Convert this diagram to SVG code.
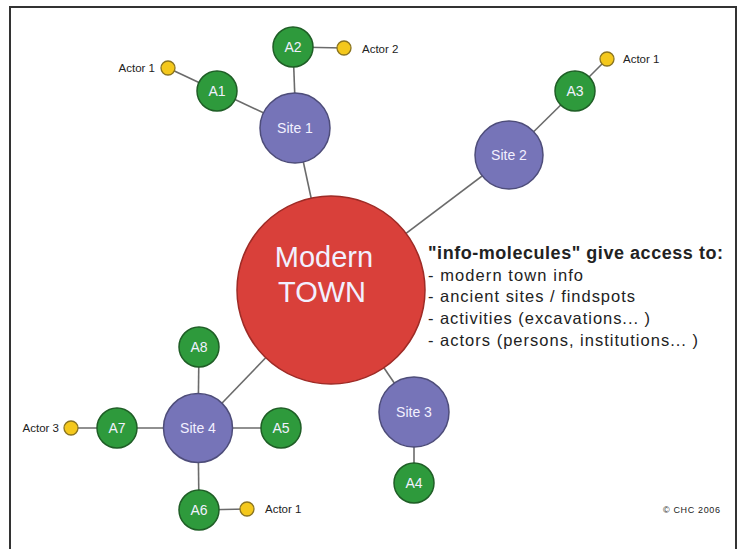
<svg xmlns="http://www.w3.org/2000/svg" width="741" height="549" viewBox="0 0 741 549">
<defs>
<style>
.edge{stroke:#6b6b6b;stroke-width:1.6;fill:none}
.town{fill:#d9403a;stroke:#9e2b26;stroke-width:1.5}
.site{fill:#7674b8;stroke:#4e4d7a;stroke-width:1.5}
.act{fill:#2e9a3c;stroke:#1f5e26;stroke-width:1.5}
.actor{fill:#f4c81c;stroke:#8a7420;stroke-width:1.3}
.lbl{font-family:"Liberation Sans",Arial,sans-serif;fill:#f2f0ff;text-anchor:middle}
.small{font-family:"Liberation Sans",Arial,sans-serif;font-size:11.5px;fill:#222}
.info{font-family:"Liberation Sans",Arial,sans-serif;font-size:16.5px;fill:#222}
</style>
</defs>
<rect x="0" y="0" width="741" height="549" fill="#ffffff"/>
<path d="M10,560 V7 H736 V560" fill="none" stroke="#333" stroke-width="2"/>
<g id="connectors">
<line class="edge" x1="331" y1="290" x2="296" y2="128"/>
<line class="edge" x1="331" y1="290" x2="510" y2="155"/>
<line class="edge" x1="331" y1="290" x2="414" y2="412"/>
<line class="edge" x1="331" y1="290" x2="198" y2="428"/>
<line class="edge" x1="296" y1="128" x2="217" y2="91"/>
<line class="edge" x1="296" y1="128" x2="293" y2="47"/>
<line class="edge" x1="217" y1="91" x2="168" y2="68"/>
<line class="edge" x1="293" y1="47" x2="344" y2="48"/>
<line class="edge" x1="510" y1="155" x2="575" y2="91"/>
<line class="edge" x1="575" y1="91" x2="607" y2="59"/>
<line class="edge" x1="414" y1="412" x2="414" y2="483"/>
<line class="edge" x1="198" y1="428" x2="199" y2="347"/>
<line class="edge" x1="198" y1="428" x2="117" y2="428"/>
<line class="edge" x1="198" y1="428" x2="281" y2="428"/>
<line class="edge" x1="198" y1="428" x2="199" y2="510"/>
<line class="edge" x1="117" y1="428" x2="71" y2="428"/>
<line class="edge" x1="199" y1="510" x2="247" y2="509"/>
</g>
<g id="town"><circle class="town" cx="331" cy="290" r="94"/>
<text class="lbl" x="324" y="267" font-size="29">Modern</text>
<text class="lbl" x="322" y="302" font-size="29">TOWN</text></g>
<g id="site1"><circle class="site" cx="295" cy="128" r="35"/><text class="lbl" x="295" y="133" font-size="14">Site 1</text></g>
<g id="site2"><circle class="site" cx="509" cy="155" r="34"/><text class="lbl" x="509" y="160" font-size="14">Site 2</text></g>
<g id="site3"><circle class="site" cx="414" cy="412" r="35"/><text class="lbl" x="414" y="417" font-size="14">Site 3</text></g>
<g id="site4"><circle class="site" cx="198" cy="428" r="34.5"/><text class="lbl" x="198" y="433" font-size="14">Site 4</text></g>
<g id="a1"><circle class="act" cx="217" cy="91" r="20"/><text class="lbl" x="217" y="96" font-size="14">A1</text></g>
<g id="a2"><circle class="act" cx="293" cy="47" r="20"/><text class="lbl" x="293" y="52" font-size="14">A2</text></g>
<g id="a3"><circle class="act" cx="575" cy="91" r="20"/><text class="lbl" x="575" y="96" font-size="14">A3</text></g>
<g id="a4"><circle class="act" cx="414" cy="483" r="20"/><text class="lbl" x="414" y="488" font-size="14">A4</text></g>
<g id="a5"><circle class="act" cx="281" cy="428" r="20"/><text class="lbl" x="281" y="433" font-size="14">A5</text></g>
<g id="a6"><circle class="act" cx="199" cy="510" r="20"/><text class="lbl" x="199" y="515" font-size="14">A6</text></g>
<g id="a7"><circle class="act" cx="117" cy="428" r="20"/><text class="lbl" x="117" y="433" font-size="14">A7</text></g>
<g id="a8"><circle class="act" cx="199" cy="347" r="20"/><text class="lbl" x="199" y="352" font-size="14">A8</text></g>
<g id="actor1a"><circle class="actor" cx="168" cy="68" r="7"/><text class="small" x="155" y="72" text-anchor="end">Actor 1</text></g>
<g id="actor2"><circle class="actor" cx="344" cy="48" r="7"/><text class="small" x="362" y="53">Actor 2</text></g>
<g id="actor1b"><circle class="actor" cx="607" cy="59" r="7"/><text class="small" x="623" y="63">Actor 1</text></g>
<g id="actor3"><circle class="actor" cx="71" cy="428" r="7"/><text class="small" x="59" y="432" text-anchor="end">Actor 3</text></g>
<g id="actor1c"><circle class="actor" cx="247" cy="509" r="7"/><text class="small" x="265" y="513">Actor 1</text></g>
<g id="info">
<text class="info" x="428" y="259" font-weight="bold" style="font-size:18px" textLength="295">"info-molecules" give access to:</text>
<text class="info" x="428" y="281" textLength="155">- modern town info</text>
<text class="info" x="428" y="302" textLength="207">- ancient sites / findspots</text>
<text class="info" x="428" y="324" textLength="222">- activities (excavations... )</text>
<text class="info" x="428" y="346" textLength="270">- actors (persons, institutions... )</text>
</g>
<text class="small" x="663" y="513" style="font-size:9px" textLength="57">© CHC 2006</text>
</svg>
